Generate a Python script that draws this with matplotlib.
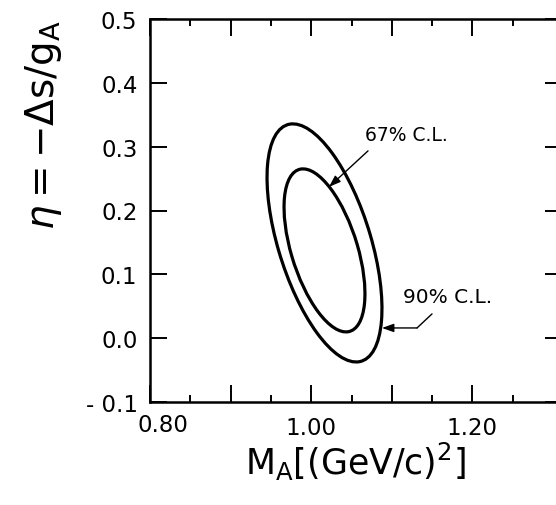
import numpy as np
import matplotlib
matplotlib.use("Agg")
import matplotlib.pyplot as plt
from matplotlib.patches import Ellipse
from matplotlib.ticker import FixedLocator, FixedFormatter

# ---- data ----
cl_labels = ["67% C.L.", "90% C.L."]
center_x = [1.0165, 1.0165]      # M_A centre
center_y = [0.1375, 0.1492]      # eta centre
sigma_x = [0.0502, 0.0713]       # half extent in M_A
sigma_y = [0.1277, 0.1865]       # half extent in eta
rho = [-0.53, -0.55]             # correlation

x_major = [0.80, 0.90, 1.00, 1.10, 1.20]
x_major_labels = ["", "", "1.00", "", "1.20"]
x_minor = [0.85, 0.95, 1.05, 1.15, 1.25]
y_major = [-0.1, 0.0, 0.1, 0.2, 0.3, 0.4, 0.5]
y_major_labels = ["- 0.1", "0.0", "0.1", "0.2", "0.3", "0.4", "0.5"]

W, H = 556, 506
fig = plt.figure(figsize=(W / 100, H / 100), dpi=100)
ax = fig.add_axes([150 / W, 103 / H, (562 - 150) / W, (403 - 20) / H])
ax.set_xlim(0.80, 0.80 + 412 / 806)
ax.set_ylim(-0.1, 0.5)

for cx, cy, sx, sy, r in zip(center_x, center_y, sigma_x, sigma_y, rho):
    cov = np.array([[sx * sx, r * sx * sy], [r * sx * sy, sy * sy]])
    vals, vecs = np.linalg.eigh(cov)
    ang = np.degrees(np.arctan2(vecs[1, 1], vecs[0, 1]))
    e = Ellipse((cx, cy), 2 * np.sqrt(vals[1]), 2 * np.sqrt(vals[0]), angle=ang,
                fill=False, lw=2.3, color="black")
    ax.add_patch(e)

# annotations
ax.annotate("", xy=(1.0221, 0.237), xytext=(1.0705, 0.2934),
            arrowprops=dict(arrowstyle="-|>,head_length=0.7,head_width=0.25",
                            color="black", lw=1.0, shrinkA=0, shrinkB=0))
ax.text(1.0667, 0.3185, cl_labels[0], fontsize=13.5, va="center", ha="left")
ax.annotate("", xy=(1.1313, 0.016), xytext=(1.1499, 0.038),
            arrowprops=dict(arrowstyle="-", color="black", lw=1.0, shrinkA=0, shrinkB=0))
ax.annotate("", xy=(1.0878, 0.016), xytext=(1.1313, 0.016),
            arrowprops=dict(arrowstyle="-|>,head_length=0.7,head_width=0.25",
                            color="black", lw=1.0, shrinkA=0, shrinkB=0))
ax.text(1.1139, 0.0646, cl_labels[1], fontsize=14.5, va="center", ha="left")

# ticks
ax.xaxis.set_major_locator(FixedLocator(x_major))
ax.xaxis.set_major_formatter(FixedFormatter(x_major_labels))
ax.xaxis.set_minor_locator(FixedLocator(x_minor))
ax.yaxis.set_major_locator(FixedLocator(y_major))
ax.yaxis.set_major_formatter(FixedFormatter(y_major_labels))
ax.tick_params(which="both", direction="in", top=True, right=True, width=1.4)
ax.tick_params(which="major", length=12, labelsize=16.5)
ax.tick_params(which="minor", length=5)
ax.tick_params(axis="x", which="major", pad=10)
ax.tick_params(axis="y", which="major", pad=9)
for s in ax.spines.values():
    s.set_linewidth(1.8)

# the shifted 0.80 label
ax.annotate("0.80", xy=(0.80, 0), xycoords=("data", "axes fraction"),
            xytext=(9, -8), textcoords="offset points", ha="center", va="top",
            fontsize=16.5)

fig.text(355 / W, 1 - 475 / H, r"M$_{\rm A}$[(GeV/c)$^{2}$]", fontsize=25,
         ha="center", va="baseline")
fig.text(44 / W, 1 - 125 / H, r"$\eta = -\Delta \mathrm{s}/\mathrm{g}_{\mathrm{A}}$",
         fontsize=28, rotation=90, ha="center", va="center")

fig.savefig("out.png", dpi=100)
